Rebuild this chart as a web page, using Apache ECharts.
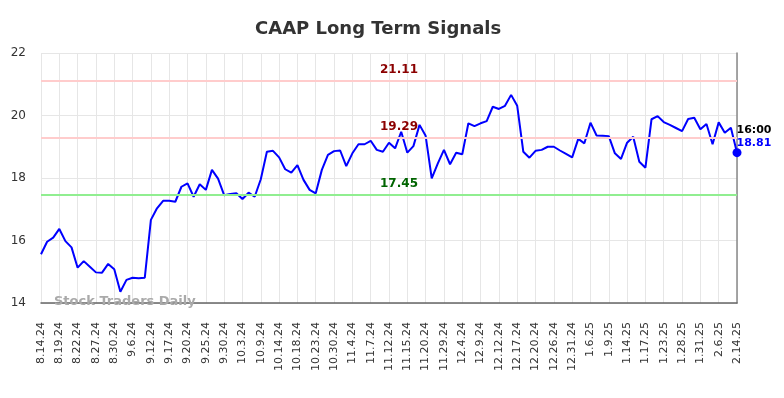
<!DOCTYPE html>
<html>
<head>
<meta charset="utf-8">
<script src="https://cdn.jsdelivr.net/npm/echarts@6/dist/echarts.min.js"></script>
<style>
  html, body { margin: 0; padding: 0; background: #fff; }
  #chart { width: 784px; height: 398px; }
</style>
</head>
<body>
<div id="chart"></div>
<script>
// trading days shown on the x axis (every third one is labelled)
var dates = [
  '8.14.24', '8.15.24', '8.16.24', '8.19.24', '8.20.24', '8.21.24', '8.22.24', '8.23.24', '8.26.24', '8.27.24',
  '8.28.24', '8.29.24', '8.30.24', '9.3.24', '9.4.24', '9.6.24', '9.9.24', '9.10.24', '9.12.24', '9.13.24',
  '9.16.24', '9.17.24', '9.18.24', '9.19.24', '9.20.24', '9.23.24', '9.24.24', '9.25.24', '9.26.24', '9.27.24',
  '9.30.24', '10.1.24', '10.2.24', '10.3.24', '10.4.24', '10.7.24', '10.9.24', '10.10.24', '10.11.24', '10.14.24',
  '10.15.24', '10.17.24', '10.18.24', '10.21.24', '10.22.24', '10.23.24', '10.25.24', '10.28.24', '10.30.24', '10.31.24',
  '11.1.24', '11.4.24', '11.5.24', '11.6.24', '11.7.24', '11.8.24', '11.11.24', '11.12.24', '11.13.24', '11.14.24',
  '11.15.24', '11.18.24', '11.19.24', '11.20.24', '11.22.24', '11.26.24', '11.29.24', '12.2.24', '12.3.24', '12.4.24',
  '12.5.24', '12.6.24', '12.9.24', '12.10.24', '12.11.24', '12.12.24', '12.13.24', '12.16.24', '12.17.24', '12.18.24',
  '12.19.24', '12.20.24', '12.23.24', '12.24.24', '12.26.24', '12.27.24', '12.30.24', '12.31.24', '1.2.25', '1.3.25',
  '1.6.25', '1.7.25', '1.8.25', '1.9.25', '1.10.25', '1.13.25', '1.14.25', '1.15.25', '1.16.25', '1.17.25',
  '1.21.25', '1.22.25', '1.23.25', '1.24.25', '1.27.25', '1.28.25', '1.29.25', '1.30.25', '1.31.25', '2.3.25',
  '2.4.25', '2.6.25', '2.10.25', '2.12.25', '2.14.25'
];

// closing prices
var prices = [
  15.56, 15.96, 16.09, 16.37, 15.98, 15.78, 15.13, 15.34, 15.16, 14.98,
  14.97, 15.25, 15.08, 14.36, 14.74, 14.81, 14.79, 14.81, 16.66, 17.03,
  17.27, 17.27, 17.24, 17.72, 17.83, 17.40, 17.80, 17.62, 18.26, 17.98,
  17.45, 17.49, 17.51, 17.33, 17.53, 17.40, 17.96, 18.84, 18.87, 18.66,
  18.28, 18.17, 18.41, 17.94, 17.62, 17.51, 18.26, 18.74, 18.86, 18.88,
  18.38, 18.79, 19.08, 19.08, 19.19, 18.90, 18.84, 19.13, 18.95, 19.48,
  18.81, 19.02, 19.70, 19.35, 17.99, 18.47, 18.90, 18.44, 18.81, 18.76,
  19.75, 19.66, 19.75, 19.82, 20.28, 20.21, 20.31, 20.66, 20.31, 18.84,
  18.65, 18.87, 18.90, 19.00, 19.00, 18.88, 18.77, 18.66, 19.25, 19.11,
  19.77, 19.36, 19.35, 19.34, 18.79, 18.61, 19.13, 19.32, 18.52, 18.33,
  19.88, 19.98, 19.79, 19.70, 19.60, 19.50, 19.89, 19.93, 19.56, 19.73,
  19.08, 19.78, 19.45, 19.61, 18.81
];

// signal levels
var resistance = [21.11, 19.29];
var support = [17.45];
var lastTime = '16:00';
var yTicks = [14, 16, 18, 20, 22];

var chart = echarts.init(document.getElementById('chart'));

var lastIdx = prices.length - 1;
var lineData = prices.map(function (v, i) {
  if (i !== lastIdx) return v;
  return {
    value: v,
    symbol: 'circle',
    symbolSize: 9,
    itemStyle: { color: '#0000ff' },
    label: {
      show: true,
      position: [4, -25],
      align: 'left',
      formatter: '{t|' + lastTime + '}\n{v|' + v.toFixed(2) + '}',
      rich: {
        t: { color: '#000', fontWeight: 'bold', fontSize: 11, lineHeight: 13, fontFamily: 'DejaVu Sans' },
        v: { color: '#0000ff', fontWeight: 'bold', fontSize: 11, lineHeight: 13, fontFamily: 'DejaVu Sans' }
      }
    }
  };
});

function levelLine(v, lineColor, textColor) {
  return {
    yAxis: v,
    lineStyle: { color: lineColor, width: 2, type: 'solid' },
    label: {
      show: true,
      position: 'insideMiddleTop',
      offset: [10, 0],
      formatter: v.toFixed(2),
      color: textColor,
      fontWeight: 'bold',
      fontSize: 12,
      fontFamily: 'DejaVu Sans'
    }
  };
}

var levels = resistance.map(function (v) { return levelLine(v, '#ffcccc', '#8b0000'); })
  .concat(support.map(function (v) { return levelLine(v, '#90ee90', '#006400'); }));

chart.setOption({
  animation: false,
  backgroundColor: '#fff',
  title: {
    text: 'CAAP Long Term Signals',
    left: 250,
    top: 15,
    textStyle: { fontSize: 18, fontWeight: 'bold', color: '#333', fontFamily: 'DejaVu Sans' }
  },
  grid: { left: 41, right: 47, top: 53, bottom: 95 },
  graphic: [{
    type: 'text',
    left: 54,
    top: 295,
    z: 1,
    style: {
      text: 'Stock Traders Daily',
      fill: '#aaaaaa',
      font: 'bold 13px "DejaVu Sans"'
    }
  }],
  xAxis: {
    type: 'category',
    data: dates,
    boundaryGap: false,
    axisLine: { show: true, lineStyle: { color: '#666', width: 1.5 } },
    axisTick: { show: false },
    axisLabel: {
      interval: 2,
      rotate: 90,
      margin: 19,
      fontSize: 11,
      color: '#333',
      fontFamily: 'DejaVu Sans'
    },
    splitLine: { show: true, interval: 2, lineStyle: { color: '#e6e6e6', width: 1 } }
  },
  yAxis: [{
    type: 'value',
    min: yTicks[0],
    max: yTicks[yTicks.length - 1],
    interval: 2,
    axisLine: { show: false },
    axisTick: { show: false },
    axisLabel: { margin: 15, fontSize: 12, color: '#333', fontFamily: 'DejaVu Sans' },
    splitLine: { show: true, lineStyle: { color: '#e6e6e6', width: 1 } }
  }, {
    type: 'value',
    position: 'right',
    min: yTicks[0],
    max: yTicks[yTicks.length - 1],
    axisLine: { show: true, lineStyle: { color: '#888', width: 1.5 } },
    axisTick: { show: false },
    axisLabel: { show: false },
    splitLine: { show: false }
  }],
  series: [{
    type: 'line',
    data: lineData,
    showSymbol: true,
    symbol: 'none',
    lineStyle: { color: '#0000ff', width: 2 },
    itemStyle: { color: '#0000ff' },
    z: 3,
    markLine: {
      silent: true,
      symbol: 'none',
      data: levels
    }
  }]
});
</script>
</body>
</html>
